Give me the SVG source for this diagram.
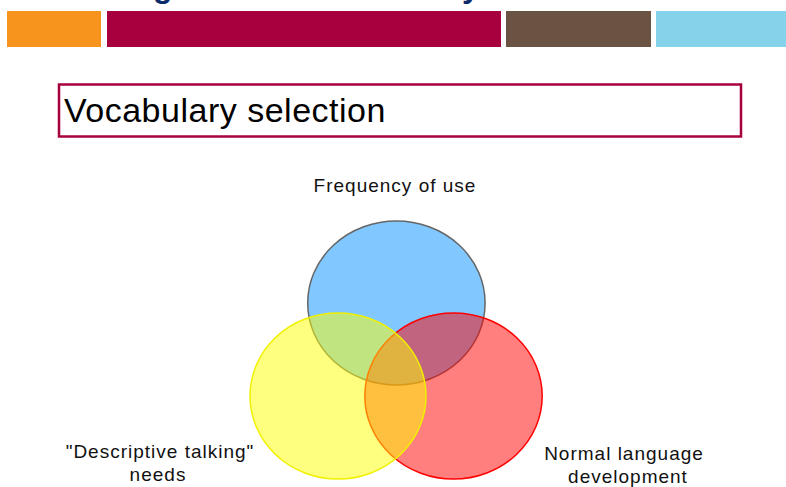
<svg xmlns="http://www.w3.org/2000/svg" width="786" height="487" viewBox="0 0 786 487">
<style>
.lbl{font-family:"Liberation Sans",Arial,sans-serif;font-size:19px;letter-spacing:1px;fill:#111;text-anchor:middle}
.ttl{font-family:"Liberation Sans",Arial,sans-serif;font-size:34px;letter-spacing:0.5px;fill:#000}
.top{font-family:"Liberation Sans",Arial,sans-serif;font-size:32px;font-weight:bold;fill:#0b2a6b}
</style>
<rect width="786" height="487" fill="#fff"/>
<g id="header">
<text class="top" x="153" y="-3">g</text>
<text class="top" x="462" y="-3">y</text>
<rect x="7" y="11" width="94" height="36" fill="#f7941e"/>
<rect x="107" y="11" width="394" height="36" fill="#a8003f"/>
<rect x="506" y="11" width="145" height="36" fill="#6b5344"/>
<rect x="656" y="11" width="130" height="36" fill="#84d3ea"/>
</g>
<g id="title">
<rect x="59" y="84.5" width="682" height="52" fill="#fff" stroke="#a8003f" stroke-width="2.5"/>
<text class="ttl" x="64" y="122">Vocabulary selection</text>
</g>
<g id="frequency">
<ellipse cx="396.4" cy="303" rx="88.7" ry="82" fill="#80c8ff" stroke="#666" stroke-width="1.5"/>
<text class="lbl" x="395" y="192">Frequency of use</text>
</g>
<g id="normal">
<ellipse cx="453.5" cy="396" rx="88.7" ry="83" fill="#ff0000" fill-opacity="0.5" stroke="#ff0000" stroke-width="1.5"/>
<text class="lbl" x="624" y="460">Normal language</text>
<text class="lbl" x="628" y="483">development</text>
</g>
<g id="descriptive">
<ellipse cx="338" cy="396" rx="88" ry="83" fill="#ffff00" fill-opacity="0.5" stroke="#f0f000" stroke-width="1.5"/>
<text class="lbl" x="160" y="458">"Descriptive talking"</text>
<text class="lbl" x="158" y="481">needs</text>
</g>
</svg>
